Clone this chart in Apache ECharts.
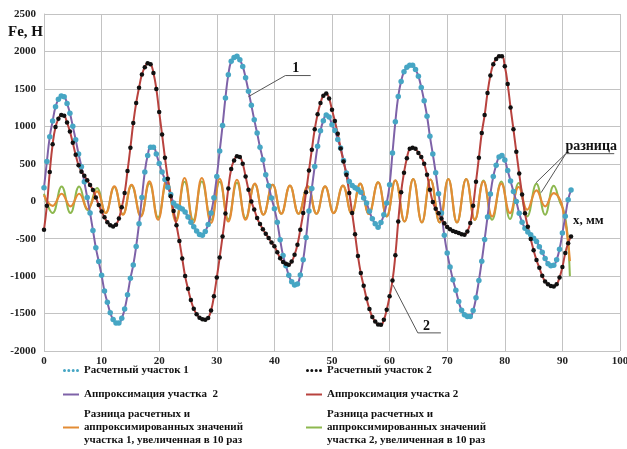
<!DOCTYPE html>
<html><head><meta charset="utf-8">
<script src="https://cdn.jsdelivr.net/npm/echarts@6/dist/echarts.min.js"></script>
<style>html,body{margin:0;padding:0;background:#fff}#c{width:627px;height:449px}</style>
</head><body><div id="c"></div>
<script>
// sample grid step of the calculated points, mm
const xStep = 0.5;
// Calculated section 1 (blue dots), N, at x = 0, 0.5, 1, ...
const calc1 = [180,530,860,1070,1260,1360,1405,1395,1305,1175,
1000,822,630,460,260,50,-158,-390,-620,-805,
-990,-1200,-1350,-1490,-1580,-1625,-1625,-1562,-1440,-1250,
-1030,-850,-604,-300,50,390,610,720,720,630,
505,390,290,185,90,-25,-65,-85,-105,-145,
-210,-280,-340,-398,-445,-455,-403,-310,-158,45,
330,670,1010,1380,1690,1870,1920,1935,1890,1800,
1650,1470,1280,1089,910,720,554,355,205,42,
-100,-280,-515,-725,-860,-990,-1075,-1120,-1105,-985,
-782,-485,-130,170,465,735,940,1075,1150,1125,
1022,945,825,710,545,376,265,210,180,158,
120,42,-25,-135,-235,-300,-348,-285,-180,-25,
220,644,1060,1400,1600,1730,1790,1815,1815,1760,
1670,1520,1340,1135,867,630,380,100,-158,-455,
-690,-880,-1049,-1190,-1340,-1455,-1515,-1540,-1540,-1460,
-1290,-1060,-800,-510,-210,95,330,480,590,610,
550,410,270,131,-5,-160,-280,-360,-410,-448,
-495,-537,-608,-680,-765,-835,-862,-855,-780,-640,
-426,-200,20,150];
// Calculated section 2 (black dots), N
const calc2 = [-380,-60,390,760,990,1100,1150,1140,1050,930,
780,620,480,395,340,280,215,150,50,-50,
-136,-215,-280,-320,-336,-314,-230,-80,109,405,
715,1045,1310,1515,1691,1790,1842,1830,1713,1500,
1190,890,580,300,65,-130,-320,-530,-765,-1000,
-1170,-1320,-1435,-1510,-1555,-1575,-1584,-1560,-1460,-1270,
-1020,-750,-470,-165,170,430,545,600,590,500,
330,154,-5,-110,-225,-305,-375,-436,-492,-550,
-600,-680,-760,-810,-835,-849,-805,-715,-580,-380,
-158,120,410,688,960,1160,1310,1410,1437,1370,
1220,1070,900,705,530,354,110,-158,-440,-730,
-960,-1130,-1300,-1440,-1545,-1605,-1645,-1651,-1584,-1450,
-1270,-1060,-720,-270,120,380,575,700,715,700,
645,590,500,355,154,-10,-100,-160,-230,-295,
-345,-375,-398,-410,-425,-440,-448,-403,-292,-60,
260,580,911,1150,1446,1680,1830,1900,1935,1935,
1802,1565,1250,960,660,370,90,-160,-340,-505,
-655,-785,-890,-995,-1072,-1110,-1133,-1138,-1110,-1020,
-880,-690,-560,-470];
// Difference curves (x10), read at their peaks and troughs
const diffX = [0,1.5,3.06,4.6,6.1,7.6,9.2,10.7,12.2,13.7,15.2,16.8,18.3,19.8,21.3,22.9,24.4,25.9,27.4,29.0,
30.5,32.0,33.5,35.0,36.6,38.1,39.7,41.2,42.7,44.2,45.8,47.3,48.8,50.3,51.9,53.4,54.9,56.4,58.0,59.5,
61.0,62.6,64.1,65.6,67.1,68.7,70.2,71.7,73.3,74.8,76.3,77.8,79.4,80.9,82.4,83.9,85.5,87.0,88.5,89.6,
90.2,90.8,91.3];
const diff1 = [80,-62,100,-69,100,-105,131,-158,198,-180,220,-203,265,-247,287,-270,310,-290,310,-290,
300,-270,287,-247,234,-180,220,-167,207,-167,198,-167,198,-158,207,-162,234,-170,252,-203,
278,-270,296,-283,290,-283,296,-283,296,-247,265,-203,234,-158,190,-114,145,-69,109,20,
-160,-420,-800];
const diff2 = [100,-158,198,-158,198,-120,176,-158,190,-175,210,-195,235,-215,245,-235,260,-250,265,-250,
260,-240,245,-225,225,-180,220,-167,207,-167,198,-167,198,-158,207,-162,234,-170,252,-203,
278,-270,296,-283,290,-283,296,-283,296,-250,278,-247,265,-238,243,-203,234,-180,207,-20,
-120,-380,-1000];
const xTicks = [0,10,20,30,40,50,60,70,80,90,100];
const yTicks = [-2000,-1500,-1000,-500,0,500,1000,1500,2000,2500];

const N1 = 'Расчетный участок 1';
const N2 = 'Расчетный участок 2';
const N3 = 'Аппроксимация участка  2';
const N4 = 'Аппроксимация участка 2';
const N5 = 'Разница расчетных и\nаппроксимированных значений\nучастка 1, увеличенная в 10 раз';
const N6 = 'Разница расчетных и\nаппроксимированных значений\nучастка 2, увеличенная в 10 раз';

const C_BLUE = '#46A6C4', C_BLACK = '#111111', C_PURPLE = '#7E62A8', C_RED = '#B8423E',
      C_ORANGE = '#E38C35', C_GREEN = '#8DB84F';

const pts = arr => arr.map((v, i) => [i * xStep, v]);
const pairs = (xs, ys) => xs.map((x, i) => [x, ys[i]]);

const FONT = 'Liberation Serif';
const dotIcon = 'path://M0,1.5a1.5,1.5 0 1,0 3,0a1.5,1.5 0 1,0 -3,0zM4.3,1.5a1.5,1.5 0 1,0 3,0a1.5,1.5 0 1,0 -3,0zM8.7,1.5a1.5,1.5 0 1,0 3,0a1.5,1.5 0 1,0 -3,0zM13,1.5a1.5,1.5 0 1,0 3,0a1.5,1.5 0 1,0 -3,0z';
const legTS = {fontFamily: FONT, fontWeight: 'bold', fontSize: 11, color: '#111', lineHeight: 13};
function leg(name, icon, color, left, top, h) {
  return {data: [{name: name, icon: icon, itemStyle: {color: color}}], left: left, top: top,
    itemWidth: 16, itemHeight: h, itemGap: 0, padding: 0, selectedMode: false, textStyle: legTS};
}

const chart = echarts.init(document.getElementById('c'), null, {renderer: 'canvas'});
const axisLbl = {fontFamily: FONT, fontWeight: 'bold', fontSize: 11, color: '#222', formatter: v => String(v)};
const gridLine = {lineStyle: {color: '#C3C3C3', width: 1}};
chart.setOption({
  animation: false,
  backgroundColor: '#fff',
  grid: {left: 44, right: 7, top: 14, bottom: 98, containLabel: false, outerBoundsMode: 'none'},
  xAxis: {type: 'value', min: xTicks[0], max: xTicks[xTicks.length - 1], interval: xTicks[1] - xTicks[0],
    axisLine: {show: true, onZero: true, lineStyle: {color: '#C3C3C3'}}, axisTick: {show: false},
    axisLabel: Object.assign({margin: 5, showMinLabel: true, showMaxLabel: true, hideOverlap: false}, axisLbl),
    splitLine: Object.assign({show: true}, gridLine)},
  yAxis: {type: 'value', min: yTicks[0], max: yTicks[yTicks.length - 1], interval: yTicks[1] - yTicks[0],
    axisLine: {show: true, lineStyle: {color: '#C3C3C3'}}, axisTick: {show: false},
    axisLabel: Object.assign({margin: 8}, axisLbl),
    splitLine: Object.assign({show: true}, gridLine)},
  legend: [
    leg(N1, dotIcon, C_BLUE, 63, 364, 3),
    leg(N2, dotIcon, C_BLACK, 306, 364, 3),
    leg(N3, 'rect', C_PURPLE, 63, 388, 2),
    leg(N4, 'rect', C_RED, 306, 388, 2),
    leg(N5, 'rect', C_ORANGE, 63, 408, 2),
    leg(N6, 'rect', C_GREEN, 306, 408, 2)
  ],
  series: [
    {name: N6, type: 'line', data: pairs(diffX, diff2), smooth: 0.45, showSymbol: false, silent: true, z: 2,
      lineStyle: {color: C_GREEN, width: 2}, itemStyle: {color: C_GREEN}},
    {name: N5, type: 'line', data: pairs(diffX, diff1), smooth: 0.45, showSymbol: false, silent: true, z: 3,
      lineStyle: {color: C_ORANGE, width: 2.2}, itemStyle: {color: C_ORANGE}},
    {name: N3, type: 'line', data: pts(calc1), smooth: 0.5, showSymbol: false, silent: true, z: 4,
      lineStyle: {color: C_PURPLE, width: 2}, itemStyle: {color: C_PURPLE}},
    {name: N4, type: 'line', data: pts(calc2), smooth: 0.5, showSymbol: false, silent: true, z: 5,
      lineStyle: {color: C_RED, width: 2}, itemStyle: {color: C_RED}},
    {name: N1, type: 'scatter', data: pts(calc1), symbol: 'circle', symbolSize: 5.5, silent: true, z: 6,
      itemStyle: {color: C_BLUE, opacity: 1}},
    {name: N2, type: 'scatter', data: pts(calc2), symbol: 'circle', symbolSize: 4.5, silent: true, z: 7,
      itemStyle: {color: C_BLACK, opacity: 1}}
  ]
});

// annotations in data coordinates
const annotations = [
  {text: '1', at: [43.7, 1772], lines: [[[35.5, 1397], [41.9, 1678], [46.3, 1678]]]},
  {text: '2', at: [66.4, -1665], lines: [[[60.6, -1120], [64.9, -1758], [68.9, -1758]]]},
  {text: 'разница', at: [95.0, 728], lines: [[[85.4, 245], [90.6, 635], [99.0, 635]], [[86.3, 114], [90.6, 635]]]}
];
const toPx = p => chart.convertToPixel({gridIndex: 0}, p);
const g = [];
annotations.forEach(a => {
  a.lines.forEach(l => g.push({type: 'polyline', silent: true, z: 20,
    shape: {points: l.map(toPx)}, style: {stroke: '#555', lineWidth: 1, fill: null}}));
  const p = toPx(a.at);
  g.push({type: 'text', silent: true, z: 21, x: p[0], y: p[1],
    style: {text: a.text, font: 'bold 14px "' + FONT + '"', fill: '#111',
      align: 'center', verticalAlign: 'middle', textAlign: 'center', textVerticalAlign: 'middle'}});
});
g.push({type: 'text', silent: true, x: 8, y: 32, style: {text: 'Fe, H', font: 'bold 15px "' + FONT + '"', fill: '#111',
  align: 'left', verticalAlign: 'middle', textAlign: 'left', textVerticalAlign: 'middle'}});
g.push({type: 'text', silent: true, x: 573, y: 221, style: {text: 'x, мм', font: 'bold 13px "' + FONT + '"', fill: '#111',
  align: 'left', verticalAlign: 'middle', textAlign: 'left', textVerticalAlign: 'middle'}});
chart.setOption({graphic: g});
</script></body></html>
